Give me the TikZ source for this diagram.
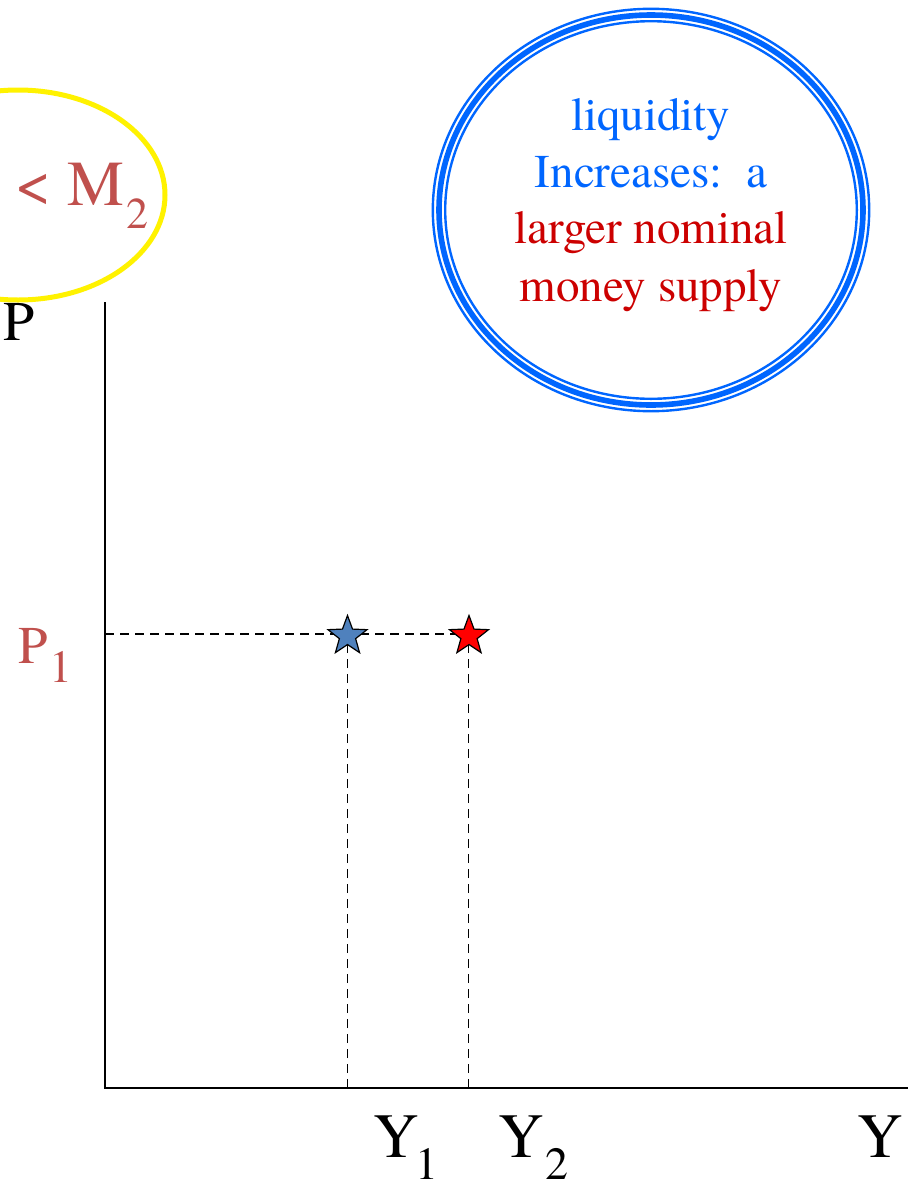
\documentclass[tikz,border=0pt]{standalone}
\usepackage{fontspec}
\IfFontExistsTF{TeX Gyre Termes}{\setmainfont{TeX Gyre Termes}}{\setmainfont{Liberation Serif}}
\usetikzlibrary{shapes.geometric}
\definecolor{mred}{HTML}{C0504D}
\definecolor{lblue}{HTML}{0066FF}
\definecolor{dred}{HTML}{CC0000}
\definecolor{sblue}{HTML}{4F81BD}
\newcommand{\fs}[1]{\fontsize{#1}{#1}\selectfont}
\tikzset{
  lbl/.style={inner sep=0pt, outer sep=0pt, anchor=base west},
  ctext/.style={inner sep=0pt, outer sep=0pt, anchor=base, font=\fs{47}},
  axis/.style={line width=1.6pt, black},
  guide/.style={line width=1.4pt, dash pattern=on 9pt off 6pt},
  mystar/.style={star, star points=5, star point ratio=2.4, minimum size=41pt, inner sep=0pt, draw=black, line width=1.2pt}
}
\begin{document}
\begin{tikzpicture}[x=1pt,y=-1pt]
\useasboundingbox (0,0) rectangle (918,1186);
\fill[white] (0,0) rectangle (918,1186);
% yellow ellipse (partly off page)
\begin{scope}
\clip (0,0) rectangle (918,1186);
\draw[yellow, line width=5pt] (18,195) ellipse [x radius=147, y radius=105];
\end{scope}
\node[lbl, text=mred, font=\fs{64}] (mlt) at (15,205) {< M};
\node[lbl, text=mred, font=\fs{44}] (msub) at (126,228) {2};
% blue compound ellipse (thin-thick-thin)
\draw[lblue, line width=5.6pt] (651,210) ellipse [x radius=212, y radius=195];
\draw[lblue, line width=2.4pt] (651,210) ellipse [x radius=218.2, y radius=201.2];
\draw[lblue, line width=2.4pt] (651,210) ellipse [x radius=205.8, y radius=188.8];
\node[ctext, text=lblue] (t1) at (651,130) {liquidity};
\node[ctext, text=lblue] (t2) at (651,187) {Increases:\ \ a};
\node[ctext, text=dred] (t3) at (651,243) {larger nominal};
\node[ctext, text=dred] (t4) at (651,301) {money supply};
% axes
\coordinate (o) at (105,1088);
\coordinate (ytop) at (105,302);
\coordinate (xend) at (908,1088);
\draw[axis] (ytop) -- (o) -- (xend);
\node[lbl, font=\fs{56}] (plab) at (3,340) {P};
\node[lbl, font=\fs{63}] (ylab) at (857,1157) {Y};
% guides
\coordinate (p1) at (105,634);
\coordinate (y1) at (347.5,1088);
\coordinate (y2) at (468.5,1088);
\coordinate (c1) at (347.5,634);
\coordinate (c2) at (468.5,634);
\draw[guide] (p1) -- (c2);
\draw[guide] (y1) -- (c1);
\draw[guide] (y2) -- (c2);
% stars
\node[mystar, fill=sblue] (s1) at (347.5,636) {};
\node[mystar, fill=red] (s2) at (469,636) {};
% labels
\node[lbl, text=mred, font=\fs{53}] (p1lab) at (19,663) {P};
\node[lbl, text=mred, font=\fs{46}] (p1sub) at (49,682) {1};
\node[lbl, font=\fs{63}] (y1lab) at (373,1157) {Y};
\node[lbl, font=\fs{46}] (y1sub) at (415,1179) {1};
\node[lbl, font=\fs{63}] (y2lab) at (498,1157) {Y};
\node[lbl, font=\fs{46}] (y2sub) at (545,1179) {2};
\end{tikzpicture}
\end{document}
